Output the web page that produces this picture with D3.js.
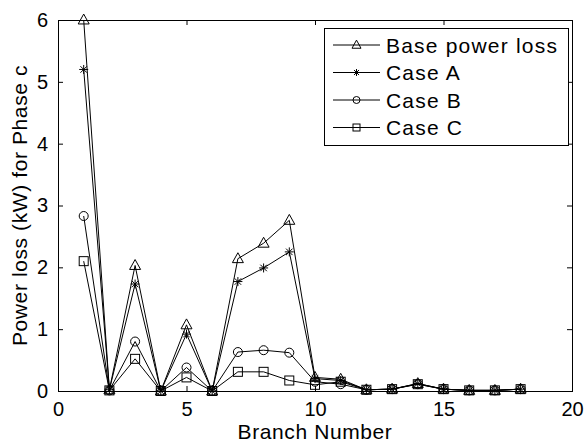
<!DOCTYPE html>
<html>
<head>
<meta charset="utf-8">
<script src="https://cdn.jsdelivr.net/npm/d3@7"></script>
<style>
html,body{margin:0;padding:0;background:#fff;}
svg{display:block;font-family:"Liberation Sans",Arial,sans-serif;}
</style>
</head>
<body>
<svg id="chart" width="587" height="443"></svg>
<script>
const branches = [1,2,3,4,5,6,7,8,9,10,11,12,13,14,15,16,17,18];
const basePowerLoss = [6.0,0.02,2.03,0.0,1.07,0.0,2.14,2.39,2.76,0.22,0.19,0.02,0.03,0.12,0.03,0.01,0.01,0.03];
const caseA = [5.2,0.02,1.73,0.0,0.92,0.0,1.77,1.99,2.25,0.2,0.17,0.02,0.03,0.12,0.03,0.01,0.01,0.03];
const caseB = [2.83,0.01,0.8,0.0,0.38,0.0,0.63,0.66,0.62,0.15,0.11,0.02,0.03,0.11,0.03,0.01,0.01,0.03];
const caseC = [2.1,0.01,0.52,0.0,0.22,0.0,0.31,0.31,0.17,0.1,0.15,0.02,0.03,0.11,0.03,0.01,0.01,0.03];
const seriesNames = ["Base power loss","Case A","Case B","Case C"];
const seriesMarkers = ["triangle","star","circle","square"];
const xTicks = [0,5,10,15,20];
const yTicks = [0,1,2,3,4,5,6];
const xLabel = "Branch Number";
const yLabel = "Power loss (kW) for Phase c";

const seriesValues = [basePowerLoss, caseA, caseB, caseC];
const series = seriesNames.map((name,i)=>({name, marker:seriesMarkers[i], values:branches.map((b,j)=>({x:b,y:seriesValues[i][j]}))}));

const svg = d3.select("#chart");
const L=58, R=572, T=20, B=391;
const x = d3.scaleLinear().domain([0,20]).range([L,R]);
const y = d3.scaleLinear().domain([0,6]).range([B,T]);
const TICK=5;
const fmt = d3.format("d");

// axes (ticks inside)
function styleAxis(g){ g.select(".domain").remove(); g.selectAll("line").attr("stroke","#000").attr("stroke-width",1); g.selectAll("text").attr("fill","#000").attr("font-size","20px").attr("font-family","Liberation Sans, Arial, sans-serif"); }
svg.append("g").attr("transform",`translate(0,${B})`)
  .call(d3.axisBottom(x).tickValues(xTicks).tickFormat(fmt).tickSizeInner(-TICK).tickSizeOuter(0).tickPadding(11))
  .call(styleAxis);
svg.append("g").attr("transform",`translate(0,${T})`)
  .call(d3.axisTop(x).tickValues(xTicks).tickSizeInner(-TICK).tickSizeOuter(0).tickFormat(""))
  .call(styleAxis);
svg.append("g").attr("transform",`translate(${L},0)`)
  .call(d3.axisLeft(y).tickValues(yTicks).tickFormat(fmt).tickSizeInner(-TICK).tickSizeOuter(0).tickPadding(10))
  .call(styleAxis);
svg.append("g").attr("transform",`translate(${R},0)`)
  .call(d3.axisRight(y).tickValues(yTicks).tickSizeInner(-TICK).tickSizeOuter(0).tickFormat(""))
  .call(styleAxis);

// frame
svg.append("rect").attr("x",L+0.5).attr("y",T+0.5).attr("width",R-L).attr("height",B-T)
  .attr("fill","none").attr("stroke","#000").attr("stroke-width",1);

// marker drawing
function drawMarker(g, type, cx, cy, s){
  if(type==="triangle"){
    const h=s*0.9;
    g.append("path").attr("d",`M${cx},${cy-h*0.6}L${cx+s/2},${cy+h*0.4}L${cx-s/2},${cy+h*0.4}Z`)
      .attr("fill","none").attr("stroke","#000").attr("stroke-width",1);
  } else if(type==="circle"){
    g.append("circle").attr("cx",cx).attr("cy",cy).attr("r",s/2)
      .attr("fill","none").attr("stroke","#000").attr("stroke-width",1);
  } else if(type==="square"){
    g.append("rect").attr("x",cx-s/2).attr("y",cy-s/2).attr("width",s).attr("height",s)
      .attr("fill","none").attr("stroke","#000").attr("stroke-width",1);
  } else if(type==="star"){
    const r=s/2, d=r*0.72;
    g.append("path").attr("d",`M${cx-r},${cy}L${cx+r},${cy}M${cx},${cy-r}L${cx},${cy+r}M${cx-d},${cy-d}L${cx+d},${cy+d}M${cx-d},${cy+d}L${cx+d},${cy-d}`)
      .attr("fill","none").attr("stroke","#000").attr("stroke-width",1);
  }
}
const markerSize = {triangle:11, star:9, circle:9, square:9};

const line = d3.line().x(d=>x(d.x)).y(d=>y(d.y));
const plot = svg.append("g");
series.forEach(s=>{
  const g = plot.append("g");
  g.append("path").datum(s.values).attr("d",line).attr("fill","none").attr("stroke","#000").attr("stroke-width",1);
  s.values.forEach(d=>drawMarker(g, s.marker, x(d.x), y(d.y), markerSize[s.marker]));
});

// labels
svg.append("text").attr("x",(L+R)/2).attr("y",439).attr("text-anchor","middle")
  .attr("font-size","21px").attr("letter-spacing","0.6px").attr("fill","#000").text(xLabel);
svg.append("text").attr("transform",`translate(27,${(T+B)/2}) rotate(-90)`).attr("text-anchor","middle")
  .attr("font-size","21px").attr("letter-spacing","0.6px").attr("fill","#000").text(yLabel);

// legend
const lg = svg.append("g");
lg.append("rect").attr("x",324.5).attr("y",28.5).attr("width",244).attr("height",117)
  .attr("fill","#fff").attr("stroke","#000").attr("stroke-width",1);
series.forEach((s,i)=>{
  const cy = 45 + i*27.5;
  lg.append("line").attr("x1",333).attr("x2",380).attr("y1",cy).attr("y2",cy).attr("stroke","#000").attr("stroke-width",1);
  drawMarker(lg, s.marker, 356.5, cy, markerSize[s.marker]-2);
  lg.append("text").attr("x",386).attr("y",cy+7.5).attr("font-size","21px").attr("letter-spacing","1.2px")
    .attr("fill","#000").text(s.name);
});
</script>
</body>
</html>
